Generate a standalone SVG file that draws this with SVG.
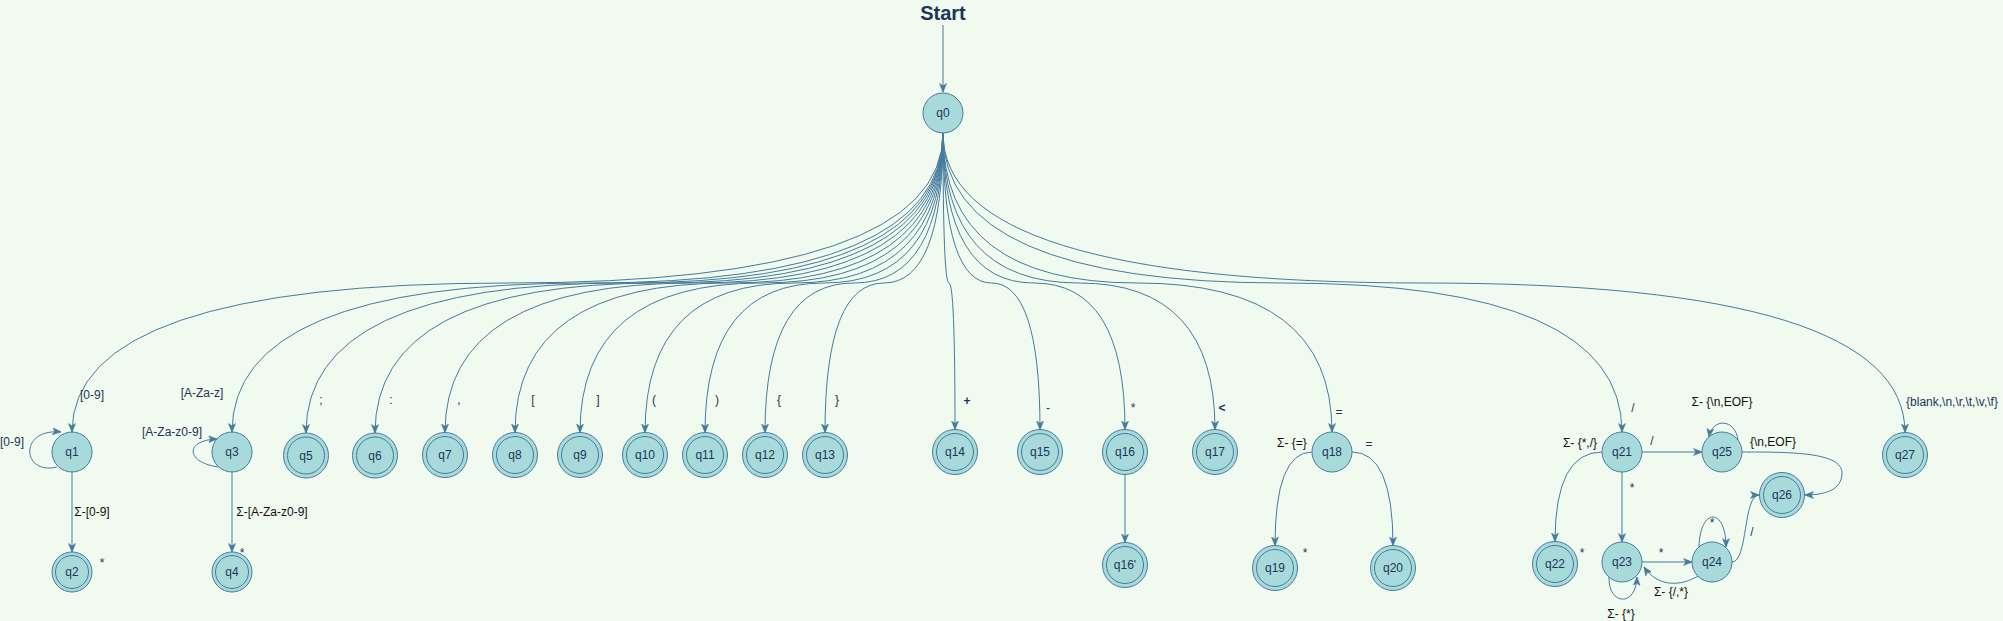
<svg xmlns="http://www.w3.org/2000/svg" width="2003" height="621" viewBox="0 0 2003 621">
<style>
.n{fill:#A8DADC;stroke:#457B9D;stroke-width:1}
.in{fill:none;stroke:#457B9D;stroke-width:1}
.nl{font-family:"Liberation Sans",Arial,sans-serif;font-size:12px;fill:#1D3557;text-anchor:middle}
.e{fill:none;stroke:#457B9D;stroke-width:1;marker-end:url(#arr)}
.l{font-family:"Liberation Sans",Arial,sans-serif;font-size:12px;fill:#1D3557;text-anchor:middle}
.k{fill:#111111}
.b{font-weight:bold}
</style>
<defs>
<marker id="arr" viewBox="0 0 10 8" refX="9.5" refY="4" markerWidth="9" markerHeight="7.5" orient="auto" markerUnits="userSpaceOnUse">
<path d="M0,0 L10,4 L0,8 L2.5,4 Z" fill="#457B9D" stroke="#457B9D" stroke-width="0.5"/>
</marker>
</defs>
<rect x="0" y="0" width="2003" height="621" fill="#F1FAEE"/>
<text x="943" y="20" font-family="'Liberation Sans',Arial,sans-serif" font-size="20" font-weight="bold" fill="#1D3557" text-anchor="middle">Start</text>

<g id="connectors">
<path class="e" d="M943 25 L943 92"/>
<path class="e" d="M943 133 Q943 283 507.5 283 Q72 283 72 432"/>
<path class="e" d="M943 133 Q943 283 587.5 283 Q232 283 232 432"/>
<path class="e" d="M943 133 Q943 283 624.5 283 Q306 283 306 433"/>
<path class="e" d="M943 133 Q943 283 659 283 Q375 283 375 433"/>
<path class="e" d="M943 133 Q943 283 694 283 Q445 283 445 432.5"/>
<path class="e" d="M943 133 Q943 283 729 283 Q515 283 515 432.5"/>
<path class="e" d="M943 133 Q943 283 761.5 283 Q580 283 580 432.5"/>
<path class="e" d="M943 133 Q943 283 794 283 Q645 283 645 432.5"/>
<path class="e" d="M943 133 Q943 283 824 283 Q705 283 705 432.5"/>
<path class="e" d="M943 133 Q943 283 854 283 Q765 283 765 432.5"/>
<path class="e" d="M943 133 Q943 283 884 283 Q825 283 825 432.5"/>
<path class="e" d="M943 133 Q943 283 949 283 Q955 283 955 429.5"/>
<path class="e" d="M943 133 Q943 283 991.5 283 Q1040 283 1040 429.5"/>
<path class="e" d="M943 133 Q943 283 1034 283 Q1125 283 1125 429.5"/>
<path class="e" d="M943 133 Q943 283 1079 283 Q1215 283 1215 429.5"/>
<path class="e" d="M943 133 Q943 283 1137.5 283 Q1332 283 1332 432"/>
<path class="e" d="M943 133 Q943 283 1282.5 283 Q1622 283 1622 432"/>
<path class="e" d="M943 133 Q943 283 1424 283 Q1905 283 1905 432.5"/>
<path class="e" d="M57 467 C22 476 18 428 61 432"/>
<path class="e" d="M72 472 L72 552"/>
<path class="e" d="M218 467 C185 462 185 440 217 439"/>
<path class="e" d="M232 472 L232 552"/>
<path class="e" d="M1125 474.5 L1125 542.5"/>
<path class="e" d="M1312 452 Q1275 452 1275 545.5"/>
<path class="e" d="M1352 452 Q1393 452 1393 545.5"/>
<path class="e" d="M1602 452 Q1555 452 1555 541.5"/>
<path class="e" d="M1642 452 L1702 452"/>
<path class="e" d="M1622 472 L1622 542"/>
<path class="e" d="M1642 562 L1692 562"/>
<path class="e" d="M1698 576 C1682 586 1658 588 1644 567"/>
<path class="e" d="M1609 577 C1608 605 1636 608 1637 577"/>
<path class="e" d="M1699 547 C1700 507 1726 507 1726 547"/>
<path class="e" d="M1732 562 C1748 562 1743 495 1759 495"/>
<path class="e" d="M1742 452 C1790 452 1842 452 1842 473 C1842 490 1825 495 1805 495"/>
<path class="e" d="M1738 440 C1735 418 1712 418 1709 437"/>
</g>

<g id="labels">
<text class="l" x="92" y="399">[0-9]</text>
<text class="l" x="202" y="397">[A-Za-z]</text>
<text class="l" x="321" y="404">;</text>
<text class="l" x="391" y="404">:</text>
<text class="l" x="459" y="404">,</text>
<text class="l" x="533" y="404">[</text>
<text class="l" x="598" y="404">]</text>
<text class="l" x="654" y="404">(</text>
<text class="l" x="717" y="404">)</text>
<text class="l" x="779" y="404">{</text>
<text class="l" x="837" y="404">}</text>
<text class="l b" x="967" y="405">+</text>
<text class="l" x="1048" y="412">-</text>
<text class="l" x="1133" y="412">*</text>
<text class="l b" x="1222" y="412">&lt;</text>
<text class="l" x="1339" y="416">=</text>
<text class="l" x="1633" y="412">/</text>
<text class="l" x="1952" y="406">{blank,\n,\r,\t,\v,\f}</text>
<text class="l" x="12" y="446">[0-9]</text>
<text class="l" x="172" y="436">[A-Za-z0-9]</text>
<text class="l k" x="92" y="516">Σ-[0-9]</text>
<text class="l k" x="272" y="516">Σ-[A-Za-z0-9]</text>
<text class="l" x="102" y="567">*</text>
<text class="l" x="242" y="557">*</text>
<text class="l k" x="1292" y="447">Σ- {=}</text>
<text class="l" x="1305" y="557">*</text>
<text class="l" x="1369" y="448">=</text>
<text class="l k" x="1580" y="447">Σ- {*,/}</text>
<text class="l" x="1652" y="445">/</text>
<text class="l k" x="1722" y="406">Σ- {\n,EOF}</text>
<text class="l k" x="1773" y="446">{\n,EOF}</text>
<text class="l" x="1632" y="492">*</text>
<text class="l" x="1582" y="557">*</text>
<text class="l" x="1661" y="557">*</text>
<text class="l" x="1712" y="527">*</text>
<text class="l" x="1752" y="536">/</text>
<text class="l k" x="1671" y="596">Σ- {/,*}</text>
<text class="l k" x="1621" y="618">Σ- {*}</text>
</g>

<g id="q0"><circle class="n" cx="943" cy="113" r="20"/><text class="nl" x="943" y="117">q0</text></g>
<g id="q1"><circle class="n" cx="72" cy="452" r="20"/><text class="nl" x="72" y="456">q1</text></g>
<g id="q2"><circle class="n" cx="72" cy="572" r="20"/><circle class="in" cx="72" cy="572" r="16.5"/><text class="nl" x="72" y="576">q2</text></g>
<g id="q3"><circle class="n" cx="232" cy="452" r="20"/><text class="nl" x="232" y="456">q3</text></g>
<g id="q4"><circle class="n" cx="232" cy="572" r="20"/><circle class="in" cx="232" cy="572" r="16.5"/><text class="nl" x="232" y="576">q4</text></g>
<g id="q5"><circle class="n" cx="306" cy="455.5" r="22.5"/><circle class="in" cx="306" cy="455.5" r="18.5"/><text class="nl" x="306" y="459.5">q5</text></g>
<g id="q6"><circle class="n" cx="375" cy="455.5" r="22.5"/><circle class="in" cx="375" cy="455.5" r="18.5"/><text class="nl" x="375" y="459.5">q6</text></g>
<g id="q7"><circle class="n" cx="445" cy="455" r="22.5"/><circle class="in" cx="445" cy="455" r="18.5"/><text class="nl" x="445" y="459">q7</text></g>
<g id="q8"><circle class="n" cx="515" cy="455" r="22.5"/><circle class="in" cx="515" cy="455" r="18.5"/><text class="nl" x="515" y="459">q8</text></g>
<g id="q9"><circle class="n" cx="580" cy="455" r="22.5"/><circle class="in" cx="580" cy="455" r="18.5"/><text class="nl" x="580" y="459">q9</text></g>
<g id="q10"><circle class="n" cx="645" cy="455" r="22.5"/><circle class="in" cx="645" cy="455" r="18.5"/><text class="nl" x="645" y="459">q10</text></g>
<g id="q11"><circle class="n" cx="705" cy="455" r="22.5"/><circle class="in" cx="705" cy="455" r="18.5"/><text class="nl" x="705" y="459">q11</text></g>
<g id="q12"><circle class="n" cx="765" cy="455" r="22.5"/><circle class="in" cx="765" cy="455" r="18.5"/><text class="nl" x="765" y="459">q12</text></g>
<g id="q13"><circle class="n" cx="825" cy="455" r="22.5"/><circle class="in" cx="825" cy="455" r="18.5"/><text class="nl" x="825" y="459">q13</text></g>
<g id="q14"><circle class="n" cx="955" cy="452" r="22.5"/><circle class="in" cx="955" cy="452" r="18.5"/><text class="nl" x="955" y="456">q14</text></g>
<g id="q15"><circle class="n" cx="1040" cy="452" r="22.5"/><circle class="in" cx="1040" cy="452" r="18.5"/><text class="nl" x="1040" y="456">q15</text></g>
<g id="q16"><circle class="n" cx="1125" cy="452" r="22.5"/><circle class="in" cx="1125" cy="452" r="18.5"/><text class="nl" x="1125" y="456">q16</text></g>
<g id="q16p"><circle class="n" cx="1125" cy="565" r="22.5"/><circle class="in" cx="1125" cy="565" r="18.5"/><text class="nl" x="1125" y="569">q16'</text></g>
<g id="q17"><circle class="n" cx="1215" cy="452" r="22.5"/><circle class="in" cx="1215" cy="452" r="18.5"/><text class="nl" x="1215" y="456">q17</text></g>
<g id="q18"><circle class="n" cx="1332" cy="452" r="20"/><text class="nl" x="1332" y="456">q18</text></g>
<g id="q19"><circle class="n" cx="1275" cy="568" r="22.5"/><circle class="in" cx="1275" cy="568" r="18.5"/><text class="nl" x="1275" y="572">q19</text></g>
<g id="q20"><circle class="n" cx="1393" cy="568" r="22.5"/><circle class="in" cx="1393" cy="568" r="18.5"/><text class="nl" x="1393" y="572">q20</text></g>
<g id="q21"><circle class="n" cx="1622" cy="452" r="20"/><text class="nl" x="1622" y="456">q21</text></g>
<g id="q22"><circle class="n" cx="1555" cy="564" r="22.5"/><circle class="in" cx="1555" cy="564" r="18.5"/><text class="nl" x="1555" y="568">q22</text></g>
<g id="q23"><circle class="n" cx="1622" cy="562" r="20"/><text class="nl" x="1622" y="566">q23</text></g>
<g id="q24"><circle class="n" cx="1712" cy="562" r="20"/><text class="nl" x="1712" y="566">q24</text></g>
<g id="q25"><circle class="n" cx="1722" cy="452" r="20"/><text class="nl" x="1722" y="456">q25</text></g>
<g id="q26"><circle class="n" cx="1782" cy="495" r="22.5"/><circle class="in" cx="1782" cy="495" r="18.5"/><text class="nl" x="1782" y="499">q26</text></g>
<g id="q27"><circle class="n" cx="1905" cy="455" r="22.5"/><circle class="in" cx="1905" cy="455" r="18.5"/><text class="nl" x="1905" y="459">q27</text></g>
</svg>
